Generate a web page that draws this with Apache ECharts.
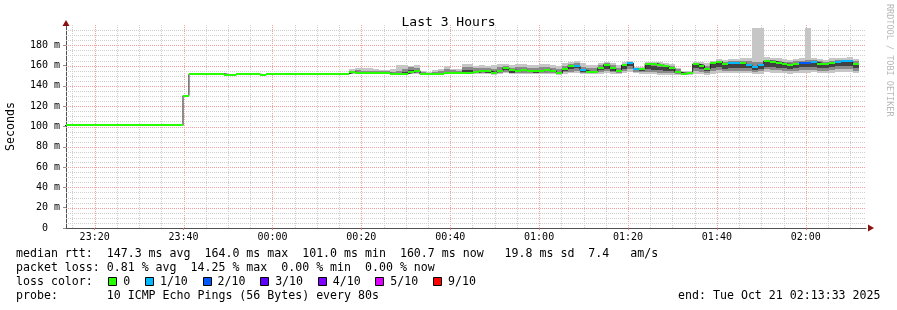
<!DOCTYPE html>
<html>
<head>
<meta charset="utf-8">
<script src="https://cdn.jsdelivr.net/npm/echarts@6.0.0/dist/echarts.min.js"></script>
<style>
html,body{margin:0;padding:0;background:#ffffff;}
#chart{width:897px;height:310px;}
</style>
</head>
<body>
<div id="chart"></div>
<script>
// x values are minutes after 23:00 (Oct 20)
const viewStart = 13.55;   // 23:13:33
const viewEnd = 193.55;    // 02:13:33
const firstStepStart = 13.21;
const stepMinutes = 80 / 60;

const xMajorTicks = [20, 40, 60, 80, 100, 120, 140, 160, 180];
const xMinorTicks = [15, 25, 30, 35, 45, 50, 55, 65, 70, 75, 85, 90, 95, 105, 110, 115, 125, 130, 135, 145, 150, 155, 165, 170, 175, 185, 190];
const yMajorTicks = [20, 40, 60, 80, 100, 120, 140, 160, 180];
const yMinorTicks = [5, 10, 15, 25, 30, 35, 45, 50, 55, 65, 70, 75, 85, 90, 95, 105, 110, 115, 125, 130, 135, 145, 150, 155, 165, 170, 175, 185, 190, 195];

// median rtt per 80 s step (ms), steps 0..133
const medianMs = [
  101,101,101,101,101,101,101,101,101,101,
  101,101,101,101,101,101,101,101,101,101,
  130.5,151.5,151.5,152,152,152,152,151,151,152,
  151.5,151.5,151.5,151,152,152,152,152,152,152,
  152,152,152,152,152,152,152,152,
  153.5,153,152.5,152.5,152.5,152.5,152.5,152,152,152,
  153.5,155,151.5,152,152,152,152.5,153,152.5,153,
  153,153.5,155,154.5,153,155,158,155.5,155,155.5,
  154.5,154.5,155,155.5,154.5,152.5,157,160,159.5,155.5,
  154,154,158,161,158,155,160.5,162.5,157,157,
  162,162,160.5,159.5,157.5,153.5,152,152.5,161.5,160,
  157,162.5,164,161.5,163,163,163,161,158.5,160.5,
  164.5,164,163,161.5,161,162,163,163,163.5,162,
  161.5,163,164,164.5,164.5,162
];
// lost pings (of 10) per step
const lostPings = [
  0,0,0,0,0,0,0,0,0,0, 0,0,0,0,0,0,0,0,0,0,
  0,0,0,0,0,0,0,0,0,0, 0,0,0,0,0,0,0,0,0,0,
  0,0,0,0,0,0,0,0,0,0, 0,0,0,0,0,0,0,0,0,0,
  0,0,0,0,0,0,0,0,0,0, 0,0,0,0,0,0,0,0,0,0,
  0,0,0,0,0,0,1,1,0,0, 0,0,0,0,0,1,1,0,0,0,
  0,0,0,0,0,0,0,0,0,0, 0,0,1,1,0,1,1,1,0,0,
  0,0,0,0,2,2,1,0,0,0, 1,1,1,0
];
// smoke (ping spread) from step 48 on
const smokeFrom = 48;
const smokeMin = [
  152,152,151.5,151.5,151.5,151.5,151.5,151,151,151,
  152,152,150.5,151,151,151,151.5,152,151.5,151.5,
  151.5,152,151.5,151.5,151,151.5,152.5,151.5,152,152,
  151.5,151.5,152,152,151.5,151,152,152.5,153,152,
  151.5,151.5,152,152.5,152,151.5,152.5,154,152.5,152,
  151.5,151.5,151,151,151,151,150.5,151,152,152,
  151,152,153,152.5,152.5,152.5,153,152.5,151.5,152,
  153.5,153,153,152.5,152,152.5,153,153,153.5,152.5,
  152.5,153,153.5,153.5,153.5,152.5
];
const smokeLo2 = [
  152.5,152.5,152,152,152,152,152,151.5,151.5,152,
  153,153,151,151.5,151.5,151.5,152,152.5,152,152.5,
  152.5,152.5,152.5,152.5,152,152.5,154,152.5,153,153,
  152.5,152.5,153,153,152.5,151.5,153.5,154,155,153,
  152.5,152.5,153.5,154.5,153.5,152.5,154.5,157,154,153.5,
  153.5,153.5,153,152.5,152.5,151.5,151,151.5,154.5,154,
  152.5,154.5,155.5,154.5,155,155,155,155,153.5,154.5,
  156.5,156,155.5,155,154.5,155,155.5,155.5,156,155,
  155,155.5,156.5,156.5,156.5,155
];
const smokeLo3 = [
  153,153,152.5,152.5,152.5,152.5,152.5,152,152,152.5,
  154,154.5,151.5,152,152,152,152.5,153,152.5,153.5,
  153.5,153.5,153.5,153,152.5,153.5,156,153,154,154.5,
  153.5,153,154,154.5,153.5,152,155,157,157.5,154,
  153.5,153,155.5,157,155,153.5,157,159.5,155.5,155,
  156.5,156,155.5,155,154.5,152.5,152,152.5,158,157,
  154.5,158,158.5,157,158,158,158,157.5,156,157,
  159,158.5,158,157.5,157,157.5,158.5,158.5,159,158,
  157.5,158.5,159.5,159.5,159.5,157.5
];
const smokeHi3 = [
  154,154,153.5,153.5,153,154,153.5,153,153,154,
  155.5,156,152.5,152.5,152.5,153,154,154,153.5,156,
  155.5,155,156,155.5,154,156,158.5,155.5,156,156.5,
  155.5,155,156,156.5,155.5,154,157.5,160.5,160,156,
  155,155,158.5,161,158,155.5,160.5,162.5,157,157,
  160.5,160,159,158.5,157,154,152.5,153,161,160,
  157,161.5,162.5,160.5,161.5,162,162,161.5,159.5,160.5,
  163.5,163,162.5,161,160.5,161.5,162.5,162.5,163,161.5,
  161,162.5,163.5,163.5,164,161.5
];
const smokeHi2 = [
  155,155.5,155,155,154.5,155,155,154,155,157,
  158.5,158,153.5,153,154,154.5,157,155.5,155,159,
  158.5,157.5,158,158,157,158.5,160,158,158.5,159,
  158,157.5,158.5,159,158,156.5,160,162,162.5,159,
  158,157.5,160.5,162.5,160.5,158,162,163.5,157.5,157.5,
  162.5,162.5,161.5,160.5,159.5,156.5,153.5,154,162.5,162,
  160,163.5,164.5,163.5,164.5,164.5,164.5,164.5,163.5,164,
  166,165.5,165,164,163.5,164.5,165,165.5,165.5,164.5,
  164,165,166,166,166,164.5
];
const smokeMax = [
  156.5,157.5,157.5,158,156.5,156,155.5,156.5,161,161,
  159.5,161,155,154,155.5,156.5,159.5,157,156.5,162,
  162,160,161,160,161,161.5,162,161,161.5,162,
  161,160.5,162,162,161,160,163,164,164.5,162.5,
  161,160.5,163,164,163,161,163.5,164.5,158.5,158.5,
  164,164,163.5,163,162,158,154.5,155,164,164,
  162.5,165,166.5,165.5,166.5,166.5,167,167,197,197,
  168,167.5,167,166.5,166,166.5,167,197,167.5,166.5,
  166,167,167.5,167.5,168,166.5
];

const lossThresholds = [0, 1, 2, 3, 4, 5, 9];
const lossLabels = ['0', '1/10', '2/10', '3/10', '4/10', '5/10', '9/10'];
const lossColors = ['#26ff00', '#00b8ff', '#0059ff', '#5e00ff', '#7e00ff', '#dd00ff', '#ff0000'];

const titleText = 'Last 3 Hours';
const statLines = [
  'median rtt:  147.3 ms avg  164.0 ms max  101.0 ms min  160.7 ms now   19.8 ms sd  7.4   am/s',
  'packet loss: 0.81 % avg  14.25 % max  0.00 % min  0.00 % now'
];
const lossTitle = 'loss color:';
const probeLine = 'probe:       10 ICMP Echo Pings (56 Bytes) every 80s';
const endLine = 'end: Tue Oct 21 02:13:33 2025';
const watermark = 'RRDTOOL / TOBI OETIKER';

// ---------------------------------------------------------------
const MONO = '"DejaVu Sans Mono", monospace';
const CW = 7.0;
const MAJOR_COLOR = '#f4a0a0';
const MINOR_COLOR = '#cfcfcf';
const AXIS_COLOR = '#505050';
const ARROW_COLOR = '#8b1010';

function stepStart(i) { return firstStepStart + i * stepMinutes; }
function bucketOf(lost) {
  let b = 0;
  lossThresholds.forEach((t, k) => { if (lost >= t) b = k; });
  return b;
}
function pad(n) { return (n < 10 ? '0' : '') + n; }
function fmtTime(m) {
  const h = (23 + Math.floor(m / 60)) % 24;
  return pad(h) + ':' + pad(Math.round(m % 60));
}
function clipTo(rect, cs) {
  return echarts.graphic.clipRectByRect(rect, { x: cs.x, y: cs.y, width: cs.width, height: cs.height });
}

const gridXData = xMinorTicks.map(v => [v, 0]).concat(xMajorTicks.map(v => [v, 1]));
const gridYData = yMinorTicks.map(v => [v, 0]).concat(yMajorTicks.map(v => [v, 1]));

const smokeData = smokeMin.map((mn, k) => {
  const i = smokeFrom + k;
  return [stepStart(i), stepStart(i + 1), mn, smokeLo2[k], smokeLo3[k], smokeHi3[k], smokeHi2[k], smokeMax[k]];
});
const medianBandData = medianMs.map((m, i) => [stepStart(i), stepStart(i + 1), m, bucketOf(lostPings[i])]);
const medianLineData = medianMs.map((m, i) => [stepStart(i), m]);
medianLineData.push([stepStart(medianMs.length), medianMs[medianMs.length - 1]]);

function renderGridLine(dir) {
  return function (params, api) {
    const cs = params.coordSys;
    const v = api.value(0);
    const major = api.value(1) === 1;
    let shape;
    if (dir === 'x') {
      const x = Math.round(api.coord([v, 0])[0]) + 0.5;
      shape = { x1: x, y1: cs.y, x2: x, y2: cs.y + cs.height };
    } else {
      const y = Math.round(api.coord([viewStart, v])[1]) + 0.5;
      shape = { x1: cs.x, y1: y, x2: cs.x + cs.width, y2: y };
    }
    return { type: 'line', shape: shape, style: { stroke: major ? MAJOR_COLOR : MINOR_COLOR, lineWidth: 1, lineDash: [1, 1] } };
  };
}

const smokeShades = [[2, 7, '#c6c6c6'], [3, 6, '#8a8a8a'], [4, 5, '#424242']];
function renderSmoke(params, api) {
  const cs = params.coordSys;
  const t0 = api.value(0), t1 = api.value(1);
  const children = [];
  smokeShades.forEach(([lo, hi, color]) => {
    const a = api.coord([t0, api.value(hi)]);
    const b = api.coord([t1, api.value(lo)]);
    const x0 = Math.round(a[0]), x1 = Math.round(b[0]);
    const y0 = Math.round(a[1]), y1 = Math.max(Math.round(b[1]), y0 + 1);
    const r = clipTo({ x: x0, y: y0, width: x1 - x0, height: y1 - y0 }, cs);
    if (r) children.push({ type: 'rect', shape: r, style: { fill: color } });
  });
  return { type: 'group', children: children };
}
function renderMedian(params, api) {
  const cs = params.coordSys;
  const a = api.coord([api.value(0), api.value(2)]);
  const b = api.coord([api.value(1), api.value(2)]);
  const x0 = Math.round(a[0]), x1 = Math.round(b[0]);
  const y = Math.round(a[1]) - 1;
  const r = clipTo({ x: x0, y: y, width: x1 - x0, height: 2 }, cs);
  if (!r) return null;
  return { type: 'rect', shape: r, style: { fill: lossColors[api.value(3)] } };
}

function txt(s, x, y, size, opts) {
  const st = Object.assign({ text: s, fontFamily: MONO, fontSize: size, fill: '#000',
    align: 'left', textAlign: 'left', verticalAlign: 'middle', textVerticalAlign: 'middle' }, opts || {});
  return { type: 'text', x: x, y: y, silent: true, style: st };
}

const graphics = [];
statLines.forEach((s, k) => graphics.push(txt(s, 16, 254.3 + 14 * k, 11.6)));
graphics.push(txt(lossTitle, 16, 282.3, 11.6));
let tx = 16 + 15.33 * CW;
lossLabels.forEach((lab, k) => {
  graphics.push({ type: 'rect', silent: true, shape: { x: Math.round(tx - 15) + 0.5, y: 277.5, width: 8, height: 8 },
    style: { fill: lossColors[k], stroke: '#000', lineWidth: 1 } });
  graphics.push(txt(lab, tx, 282.3, 11.6));
  tx += (lab.length + 4.23) * CW;
});
graphics.push(txt(probeLine, 16, 296.3, 11.6));
graphics.push(txt(endLine, 880.5, 296.3, 11.6, { align: 'right', textAlign: 'right' }));
graphics.push({ type: 'text', x: 889, y: 4, rotation: -Math.PI / 2, silent: true,
  style: { text: watermark, fontFamily: MONO, fontSize: 8.5, fill: '#b8b8b8',
    align: 'left', textAlign: 'left', verticalAlign: 'middle', textVerticalAlign: 'middle' } });

const chart = echarts.init(document.getElementById('chart'), null, { renderer: 'canvas' });
chart.setOption({
  animation: false,
  backgroundColor: '#ffffff',
  title: { text: titleText, left: 'center', top: 11,
    textStyle: { fontFamily: MONO, fontSize: 13, fontWeight: 'normal', color: '#000' } },
  grid: { left: 66, right: 31, top: 25, bottom: 82, containLabel: false, outerBoundsMode: 'none' },
  xAxis: [{
    type: 'value', min: viewStart, max: viewEnd,
    axisLine: { show: true, onZero: false, lineStyle: { color: AXIS_COLOR, width: 1 } },
    axisTick: { show: true, customValues: xMajorTicks, length: 2, lineStyle: { color: '#e07070' } },
    axisLabel: { customValues: xMajorTicks, formatter: v => fmtTime(v), margin: 4,
      fontFamily: MONO, fontSize: 10, color: '#000' },
    splitLine: { show: false }
  }, {
    type: 'value', min: viewStart, max: viewEnd, position: 'bottom',
    axisLine: { show: true, onZero: false, symbol: ['none', 'triangle'], symbolSize: [7, 6], symbolOffset: [0, 5],
      lineStyle: { color: ARROW_COLOR, width: 0 } },
    axisTick: { show: false }, axisLabel: { show: false }, splitLine: { show: false }
  }],
  yAxis: [{
    type: 'value', min: 0, max: 200, interval: 20,
    name: 'Seconds', nameLocation: 'middle', nameGap: 49, nameRotate: 90,
    nameTextStyle: { fontFamily: MONO, fontSize: 11.6, color: '#000' },
    axisLine: { show: true, onZero: false, lineStyle: { color: AXIS_COLOR, width: 1 } },
    axisTick: { show: true, length: 3, lineStyle: { color: '#909090' } },
    axisLabel: { margin: 6, fontFamily: MONO, fontSize: 10, color: '#000',
      formatter: v => v === 0 ? '0  ' : (v >= 200 ? '' : v + ' m') },
    splitLine: { show: false }
  }, {
    type: 'value', min: 0, max: 200, position: 'left',
    axisLine: { show: true, onZero: false, symbol: ['none', 'triangle'], symbolSize: [7, 6], symbolOffset: [0, 2],
      lineStyle: { color: ARROW_COLOR, width: 0 } },
    axisTick: { show: false }, axisLabel: { show: false }, splitLine: { show: false }
  }],
  series: [
    { type: 'custom', name: 'xgrid', z: 1, silent: true, renderItem: renderGridLine('x'), data: gridXData },
    { type: 'custom', name: 'ygrid', z: 1, silent: true, renderItem: renderGridLine('y'), data: gridYData },
    { type: 'custom', name: 'smoke', z: 2, silent: true, renderItem: renderSmoke, data: smokeData },
    { type: 'line', name: 'median', z: 3, silent: true, step: 'end', symbol: 'none', clip: true,
      lineStyle: { color: '#202020', width: 1 }, data: medianLineData },
    { type: 'custom', name: 'medianLoss', z: 4, silent: true, renderItem: renderMedian, data: medianBandData }
  ],
  graphic: graphics
});
</script>
</body>
</html>
